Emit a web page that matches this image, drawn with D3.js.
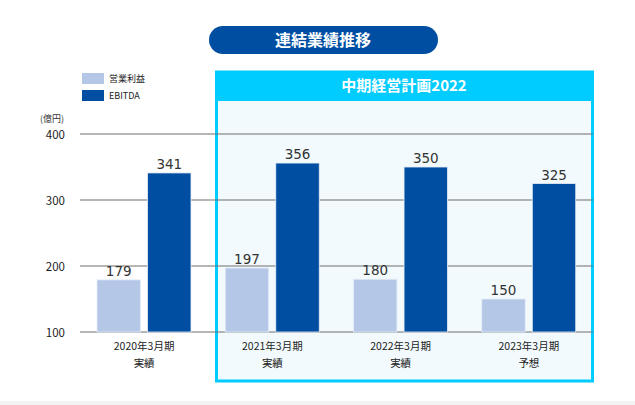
<!DOCTYPE html>
<html>
<head>
<meta charset="utf-8">
<script src="https://cdn.jsdelivr.net/npm/d3@7"></script>
<style>
  body { margin: 0; background: #fff; }
  svg { display: block; font-family: "Noto Sans CJK JP", "Noto Sans", sans-serif; }
</style>
</head>
<body>
<div id="chart"></div>
<script>
// data
var periods = ["2020年3月期", "2021年3月期", "2022年3月期", "2023年3月期"];
var kinds = ["実績", "実績", "実績", "予想"];
var opProfit = [179, 197, 180, 150];
var ebitda = [341, 356, 350, 325];
var seriesNames = ["営業利益", "EBITDA"];
var yTicks = [100, 200, 300, 400];

var width = 635, height = 405;
var colors = ["#b4c7e7", "#004ea2"];

var svg = d3.select("#chart")
  .append("svg")
  .attr("width", width)
  .attr("height", height);

// bottom grey strip
svg.append("rect")
  .attr("x", 0).attr("y", 401)
  .attr("width", width).attr("height", 4)
  .attr("fill", "#f2f2f2");

// scales
var x = d3.scaleBand().domain(periods).range([80, 593]);
var xs = d3.scaleBand().domain(seriesNames).range([17, 111]).paddingInner(0.14);
var y = d3.scaleLinear().domain([100, 400]).range([332, 134]);

// title pill
svg.append("rect")
  .attr("x", 209).attr("y", 26)
  .attr("width", 229).attr("height", 28)
  .attr("rx", 14)
  .attr("fill", "#004ea2");
svg.append("text")
  .attr("x", 323).attr("y", 46)
  .attr("text-anchor", "middle")
  .attr("fill", "#fff")
  .style("font-size", "16px")
  .style("font-weight", "bold")
  .text("連結業績推移");

// mid-term plan box
svg.append("rect")
  .attr("x", 216.5).attr("y", 72)
  .attr("width", 376).attr("height", 309)
  .attr("fill", "#f2fafd")
  .attr("stroke", "#00ccff")
  .attr("stroke-width", 3);
svg.append("rect")
  .attr("x", 215).attr("y", 71)
  .attr("width", 379).attr("height", 30)
  .attr("fill", "#00ccff");
svg.append("text")
  .attr("x", 404).attr("y", 91)
  .attr("text-anchor", "middle")
  .attr("fill", "#fff")
  .style("font-size", "15px")
  .style("font-weight", "bold")
  .text("中期経営計画2022");

// legend
var legend = svg.append("g");
seriesNames.forEach(function (name, i) {
  legend.append("rect")
    .attr("x", 82).attr("y", 73 + i * 17)
    .attr("width", 22).attr("height", 11)
    .attr("fill", colors[i]);
  legend.append("text")
    .attr("x", 109).attr("y", 82 + i * 17)
    .attr("fill", "#222")
    .style("font-size", "9px")
    .text(name);
});

// unit
svg.append("text")
  .attr("x", 40).attr("y", 122)
  .attr("fill", "#333")
  .style("font-size", "9px")
  .text("(億円)");

// grid + y labels
svg.append("g")
  .selectAll("line")
  .data(yTicks)
  .enter()
  .append("line")
  .attr("x1", 80).attr("x2", 593)
  .attr("y1", function (d) { return y(d); })
  .attr("y2", function (d) { return y(d); })
  .attr("stroke", "#6e6e6e")
  .attr("stroke-width", 1.2);

svg.append("g")
  .selectAll("text")
  .data(yTicks)
  .enter()
  .append("text")
  .attr("x", 65)
  .attr("y", function (d) { return y(d) + 4.5; })
  .attr("text-anchor", "end")
  .attr("fill", "#222")
  .style("font-size", "11.5px")
  .text(function (d) { return d; });

// bars
var groups = svg.append("g")
  .selectAll("g")
  .data(periods)
  .enter()
  .append("g")
  .attr("transform", function (d) { return "translate(" + x(d) + ",0)"; });

var values = [opProfit, ebitda];
seriesNames.forEach(function (name, s) {
  groups.append("rect")
    .attr("x", xs(name))
    .attr("width", xs.bandwidth())
    .attr("y", function (d, i) { return y(values[s][i]); })
    .attr("height", function (d, i) { return y(100) - y(values[s][i]); })
    .attr("fill", colors[s])
    .attr("stroke", "#e6eef8")
    .attr("stroke-width", 0.8);
  groups.append("text")
    .attr("x", xs(name) + xs.bandwidth() / 2)
    .attr("y", function (d, i) { return y(values[s][i]) - 4; })
    .attr("text-anchor", "middle")
    .attr("fill", "#333")
    .style("font-family", "'DejaVu Sans', Verdana, sans-serif")
    .style("font-weight", "normal")
    .style("font-size", "13.5px")
    .text(function (d, i) { return values[s][i]; });
});

// x labels
groups.append("text")
  .attr("x", x.bandwidth() / 2)
  .attr("y", 350)
  .attr("text-anchor", "middle")
  .attr("fill", "#222")
  .style("font-size", "10.5px")
  .text(function (d) { return d; });
groups.append("text")
  .attr("x", x.bandwidth() / 2)
  .attr("y", 367)
  .attr("text-anchor", "middle")
  .attr("fill", "#222")
  .style("font-size", "10.5px")
  .text(function (d, i) { return kinds[i]; });
</script>
</body>
</html>
